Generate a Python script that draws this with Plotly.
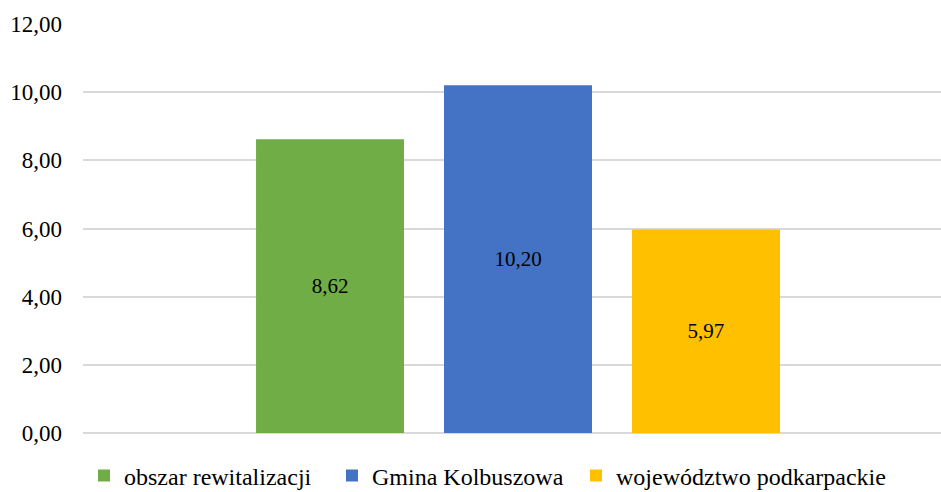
import plotly.graph_objects as go

series_names = ["obszar rewitalizacji", "Gmina Kolbuszowa", "województwo podkarpackie"]
series_values = [8.62, 10.20, 5.97]
series_colors = ["#70AD47", "#4472C4", "#FFC000"]
category = [0]
y_ticks = [0, 2, 4, 6, 8, 10, 12]

FONT = "Times New Roman, Liberation Serif, Tinos, DejaVu Serif, serif"
legend_ids = ["legend", "legend2", "legend3"]
legend_x = [0.00117, 0.2902, 0.5746]

fig = go.Figure()
for name, val, col, lg in zip(series_names, series_values, series_colors, legend_ids):
    fig.add_trace(go.Bar(
        x=category, y=[val], name=name, legend=lg,
        marker=dict(color=col, line=dict(width=0)),
        texttemplate="%{y:.2f}", textposition="inside",
        insidetextanchor="middle", constraintext="none",
        textfont=dict(family=FONT, size=21, color="#000000"),
        hoverinfo="skip",
    ))

legend_common = dict(orientation="h", xanchor="left", y=-0.105, yanchor="middle",
                     font=dict(family=FONT, size=24, color="#000000"),
                     itemwidth=30, bgcolor="rgba(0,0,0,0)")

fig.update_layout(
    width=941, height=492,
    margin=dict(l=83, r=0, t=24, b=59, autoexpand=False),
    paper_bgcolor="white", plot_bgcolor="white",
    separators=", ",
    barmode="group", bargap=0.3427, bargroupgap=0.2128,
    font=dict(family=FONT, size=23, color="#000000"),
    showlegend=True,
    legend=dict(x=legend_x[0], **legend_common),
    legend2=dict(x=legend_x[1], **legend_common),
    legend3=dict(x=legend_x[2], **legend_common),
    xaxis=dict(range=[-0.507, 0.493], showticklabels=False, showgrid=False,
               zeroline=False, showline=False, ticks="", automargin=False),
    yaxis=dict(range=[0, 12], tickvals=y_ticks, tickformat=".2f",
               showgrid=True, gridcolor="#D9D9D9", gridwidth=1.5,
               zeroline=True, zerolinecolor="#D9D9D9", zerolinewidth=1.5,
               showline=False, ticks="", ticklabelstandoff=20, automargin=False,
               tickfont=dict(family=FONT, size=23, color="#000000")),
)

fig.write_html("out.html", config={"displayModeBar": False},
               post_script="document.body.style.margin='0';document.body.style.overflow='hidden';")
